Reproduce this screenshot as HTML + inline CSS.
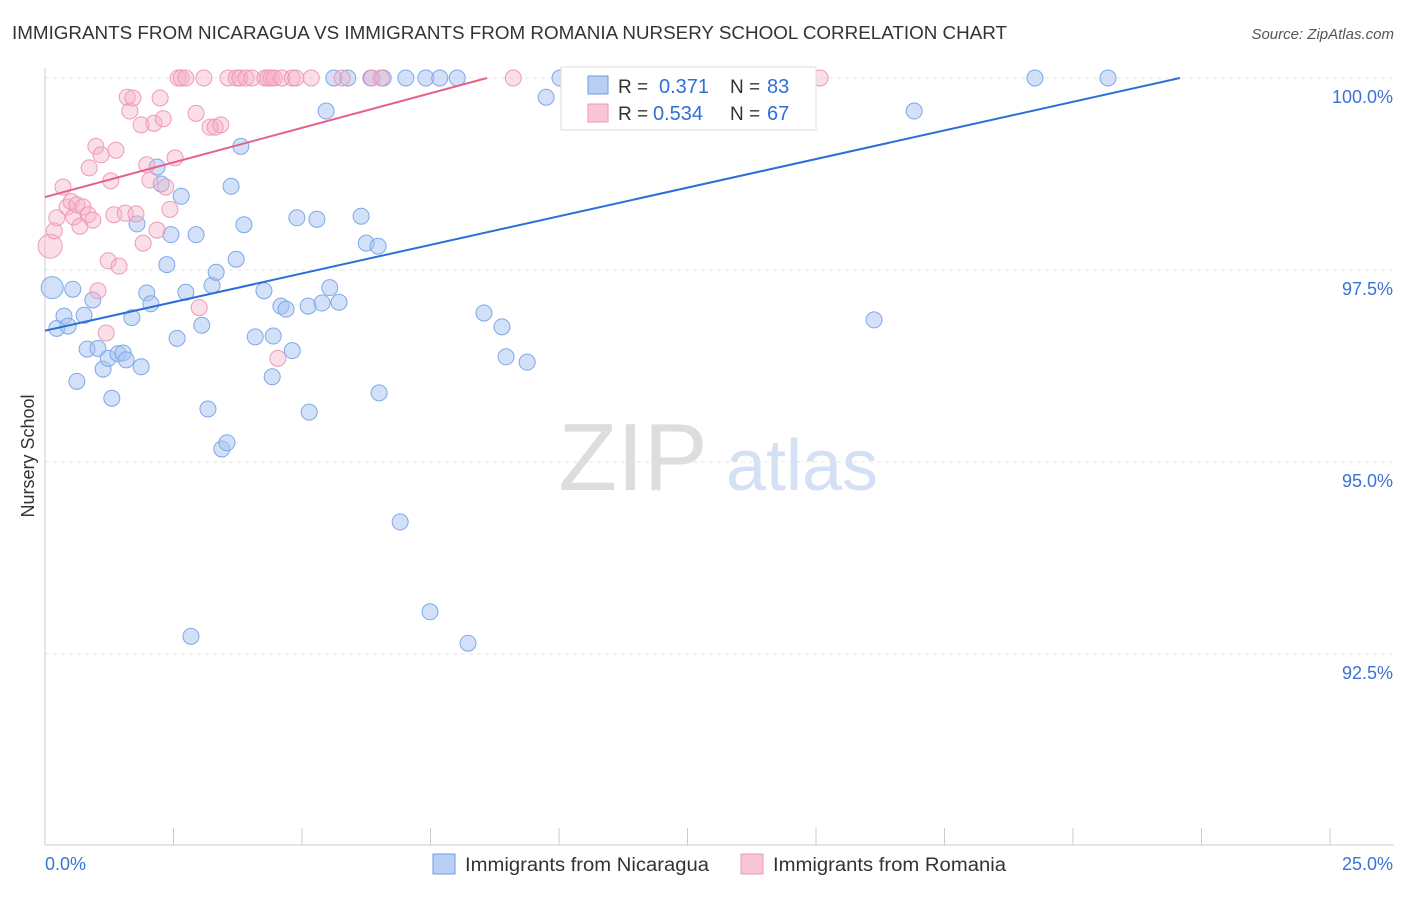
<!DOCTYPE html>
<html><head><meta charset="utf-8"><style>
body{margin:0;background:#fff;font-family:"Liberation Sans",sans-serif;}
svg text{font-family:"Liberation Sans",sans-serif;}
</style></head><body>
<svg id="chart" width="1406" height="892" xmlns="http://www.w3.org/2000/svg">
<text x="12" y="39" font-size="18" fill="#333" textLength="995" lengthAdjust="spacingAndGlyphs">IMMIGRANTS FROM NICARAGUA VS IMMIGRANTS FROM ROMANIA NURSERY SCHOOL CORRELATION CHART</text>
<text x="1394" y="39" font-size="15" fill="#555" font-style="italic" text-anchor="end">Source: ZipAtlas.com</text>
<text transform="translate(34,456) rotate(-90)" font-size="18" fill="#333" text-anchor="middle">Nursery School</text>
<text x="633" y="490" font-size="96" fill="#ddd" font-family="Liberation Serif" text-anchor="middle">ZIP</text>
<text x="802" y="490" font-size="72" fill="#d4e0f4" text-anchor="middle">atlas</text>
<g id="grid"></g><g id="axes"></g><g id="pts"></g><g id="lines"></g>
<g>
<rect x="561" y="67" width="255" height="63" fill="#fff" stroke="#ddd"/>
<rect x="588" y="76" width="20" height="18" fill="#b8cff5" stroke="#6c9be0"/>
<text x="618" y="93" font-size="19" fill="#333">R =</text>
<text x="659" y="93" font-size="20" fill="#2f6fd6">0.371</text>
<text x="730" y="93" font-size="19" fill="#333">N =</text>
<text x="767" y="93" font-size="20" fill="#2f6fd6">83</text>
<rect x="588" y="104" width="20" height="18" fill="#f8c6d6" stroke="#ee9ab7"/>
<text x="618" y="120" font-size="19" fill="#333">R =</text>
<text x="653" y="120" font-size="20" fill="#2f6fd6">0.534</text>
<text x="730" y="120" font-size="19" fill="#333">N =</text>
<text x="767" y="120" font-size="20" fill="#2f6fd6">67</text>
</g>
<g>
<rect x="433" y="854" width="22" height="20" fill="#b8cff5" stroke="#6c9be0"/>
<text x="465" y="871" font-size="19" fill="#333" textLength="244" lengthAdjust="spacingAndGlyphs">Immigrants from Nicaragua</text>
<rect x="741" y="854" width="22" height="20" fill="#f8c6d6" stroke="#ee9ab7"/>
<text x="773" y="871" font-size="19" fill="#333" textLength="233" lengthAdjust="spacingAndGlyphs">Immigrants from Romania</text>
</g>
</svg>
<script>
const yTicks=[100,97.5,95,92.5];
const yTickLabels=["100.0%","97.5%","95.0%","92.5%"];
const xEndLabels=["0.0%","25.0%"];
const blueX=[0.14,0.23,0.37,0.45,0.54,0.62,0.76,0.82,0.93,1.03,1.13,1.23,1.30,1.42,1.52,1.58,1.69,1.79,1.87,1.98,2.06,2.18,2.26,2.37,2.45,2.57,2.65,2.74,2.84,2.94,3.05,3.17,3.25,3.33,3.44,3.54,3.62,3.72,3.81,3.87,4.09,4.26,4.42,4.44,4.59,4.69,4.81,4.90,5.12,5.14,5.29,5.39,5.47,5.54,5.62,5.72,5.89,6.15,6.25,6.34,6.48,6.50,6.58,6.91,7.02,7.41,7.49,7.68,8.02,8.23,8.54,8.89,8.97,9.38,9.75,10.02,11.96,16.13,16.91,19.26,20.68];
const blueY=[97.27,96.74,96.90,96.77,97.25,96.05,96.91,96.47,97.11,96.48,96.21,96.35,95.83,96.41,96.42,96.33,96.88,98.10,96.24,97.20,97.06,98.84,98.62,97.57,97.96,96.61,98.46,97.21,92.73,97.96,96.78,95.69,97.30,97.47,95.17,95.25,98.59,97.64,99.11,98.09,96.63,97.23,96.11,96.64,97.03,96.99,96.45,98.18,97.03,95.65,98.16,97.07,99.57,97.27,100,97.08,100,98.20,97.85,100,97.81,95.90,100,94.22,100,100,93.05,100,100,92.64,96.94,96.76,96.37,96.30,99.75,100,100,96.85,99.57,100,100];
const pinkX=[0.10,0.18,0.23,0.35,0.43,0.51,0.56,0.62,0.68,0.74,0.84,0.93,0.86,0.99,1.09,1.19,1.23,1.28,1.38,1.44,1.34,1.03,1.56,1.60,1.65,1.71,1.77,1.87,1.91,1.98,2.04,2.12,2.18,2.24,2.30,2.35,2.43,2.53,2.59,2.65,2.74,2.94,3.00,3.09,3.21,3.31,3.42,3.56,3.72,3.79,3.91,4.03,4.28,4.34,4.40,4.46,4.53,4.61,4.81,4.88,5.18,5.78,6.36,6.54,9.11,15.08];
const pinkY=[97.81,98.01,98.18,98.58,98.32,98.39,98.19,98.35,98.07,98.32,98.22,98.15,98.83,99.11,99.00,96.68,97.62,98.66,99.06,97.55,98.22,97.23,98.24,99.75,99.57,99.74,98.23,99.39,97.85,98.87,98.67,99.41,98.02,99.74,99.47,98.58,98.29,98.96,100,100,100,99.54,97.01,100,99.36,99.36,99.39,100,100,100,100,100,100,100,100,100,96.35,100,100,100,100,100,100,100,100,100];
const blueTrendX=[0,22.08], blueTrendY=[96.71,100];
const pinkTrendX=[0,8.6], pinkTrendY=[98.45,100];
const NS="http://www.w3.org/2000/svg";
const sx=v=>45+v*51.4, sy=v=>78+(100-v)*76.8;
function mk(tag,attrs,parent){const e=document.createElementNS(NS,tag);for(const k in attrs)e.setAttribute(k,attrs[k]);parent.appendChild(e);return e;}
const grid=document.getElementById('grid'),axes=document.getElementById('axes'),pts=document.getElementById('pts'),lines=document.getElementById('lines');
yTicks.forEach((t,i)=>{
 const l=mk('line',{x1:45,x2:1394,y1:sy(t),y2:sy(t),stroke:'#e4e4e4','stroke-dasharray':'4,4'},grid);
 
 
 const tx=mk('text',{x:1393,y:sy(t)+25,'font-size':18,fill:'#3b73d4','text-anchor':'end'},axes);
 tx.textContent=yTickLabels[i];
 
 
});
const ax=mk('line',{x1:45,x2:1394,y1:845,y2:845,stroke:'#ccc'},axes);


const ay=mk('line',{x1:45,x2:45,y1:68,y2:845,stroke:'#ccc'},axes);


for(let i=0;i<=10;i++){const v=i*2.5;const t=mk('line',{x1:sx(v),x2:sx(v),y1:828,y2:845,stroke:'#ccc'},axes);
 
 }
const xl0=mk('text',{x:45,y:870,'font-size':18,fill:'#3b73d4'},axes);xl0.textContent=xEndLabels[0];


const xl1=mk('text',{x:1393,y:870,'font-size':18,fill:'#3b73d4','text-anchor':'end'},axes);xl1.textContent=xEndLabels[1];


blueX.forEach((x,i)=>{const c=mk('circle',{cx:sx(x),cy:sy(blueY[i]),r:i<1?11:8,fill:'rgba(165,195,242,0.5)',stroke:'#7ea8e8','stroke-width':1},pts);
 
 });
pinkX.forEach((x,i)=>{const c=mk('circle',{cx:sx(x),cy:sy(pinkY[i]),r:i<1?12:8,fill:'rgba(246,175,198,0.4)',stroke:'#ee9ab7','stroke-width':1},pts);
 
 });
const bl=mk('line',{x1:sx(blueTrendX[0]),y1:sy(blueTrendY[0]),x2:sx(blueTrendX[1]),y2:sy(blueTrendY[1]),stroke:'#2a6fd6','stroke-width':2},lines);


const pl=mk('line',{x1:sx(pinkTrendX[0]),y1:sy(pinkTrendY[0]),x2:sx(pinkTrendX[1]),y2:sy(pinkTrendY[1]),stroke:'#e4628d','stroke-width':2},lines);


</script>
</body></html>
